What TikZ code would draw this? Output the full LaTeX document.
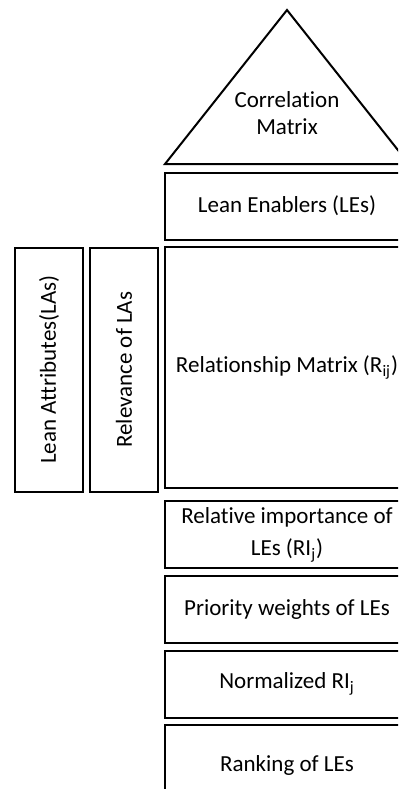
\documentclass[tikz,border=0pt]{standalone}
\usepackage{fontspec}
\setmainfont{Carlito}[Ligatures=NoCommon]
\usetikzlibrary{positioning}

\begin{document}
\begin{tikzpicture}[
    x=0.5pt, y=-0.5pt,
    node distance=2.85pt,
    block/.style={draw, line width=1pt, minimum width=122pt, minimum height=33.5pt, align=center, inner sep=0pt, font=\fontsize{11.5}{16}\selectfont},
    sidebox/.style={draw, line width=1pt, rotate=90, minimum width=122pt, minimum height=34pt, inner sep=0pt, font=\fontsize{11.5}{14}\selectfont},
]
    \clip (0,0) rectangle (398,789);
    % roof of the house
    \coordinate (apex) at (287,10);
    \coordinate (baseL) at (165,164);
    \coordinate (baseR) at (409,164);
    \draw[line width=1pt] (baseL) -- (apex) -- (baseR) -- cycle;
    \node[align=center, font=\fontsize{11.5}{13.5}\selectfont] (corr) at (287,113) {Correlation\\Matrix};

    \node[block, anchor=north] (le) at (287,171.5) {Lean Enablers (LEs)};
    \node[block, below=of le, minimum height=120.5pt] (rm) {Relationship Matrix (R\textsubscript{ij})};
    \node[block, below=5.5pt of rm] (ri) {Relative importance of\\LEs (RI\textsubscript{j})};
    \node[block, below=of ri] (pw) {Priority weights of LEs};
    \node[block, below=of pw] (nr) {Normalized RI\textsubscript{j}};
    \node[block, below=of nr, minimum height=40pt] (rk) {Ranking of LEs};

    % left wall
    \node[sidebox, anchor=south] (rel) at ([xshift=-2.5pt,yshift=-1pt]rm.west) {Relevance of LAs};
    \node[sidebox, anchor=south] (la) at ([xshift=-2.5pt]rel.north) {Lean Attributes(LAs)};
\end{tikzpicture}
\end{document}
